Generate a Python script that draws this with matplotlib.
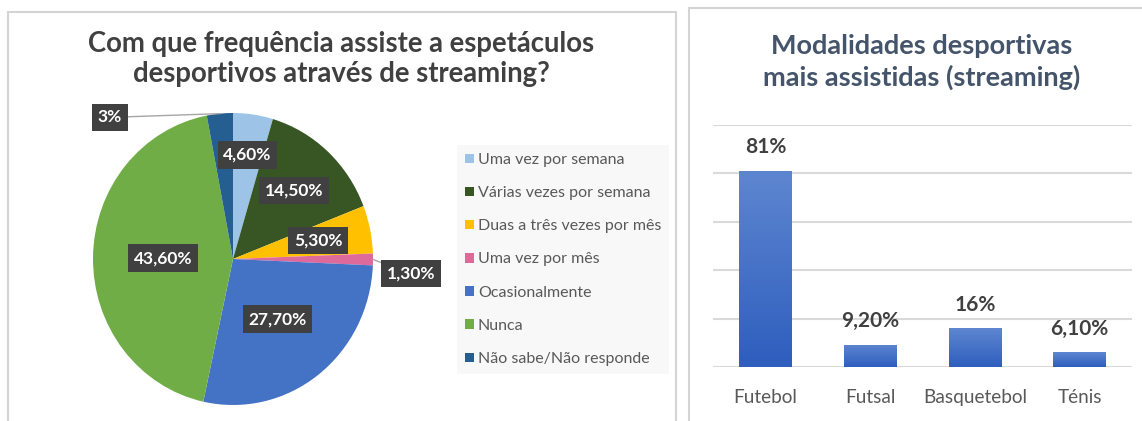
import numpy as np
import matplotlib.pyplot as plt
from matplotlib.patches import Rectangle
from matplotlib.colors import LinearSegmentedColormap

plt.rcParams['font.family'] = ['Lato', 'DejaVu Sans']

# data - left chart
freq_labels = ['Uma vez por semana', 'Várias vezes por semana', 'Duas a três vezes por mês',
               'Uma vez por mês', 'Ocasionalmente', 'Nunca', 'Não sabe/Não responde']
freq_values = [4.6, 14.5, 5.3, 1.3, 27.7, 43.6, 3.0]
freq_text = ['4,60%', '14,50%', '5,30%', '1,30%', '27,70%', '43,60%', '3%']
freq_colors = ['#9DC3E6', '#375623', '#FFC000', '#DE6A9C', '#4472C4', '#70AD47', '#255E91']

# data - right chart
sports = ['Futebol', 'Futsal', 'Basquetebol', 'Ténis']
sport_values = [81, 9.2, 16, 6.1]
sport_text = ['81%', '9,20%', '16%', '6,10%']

W, H = 1142, 421
fig = plt.figure(figsize=(W / 100, H / 100), dpi=100)


def box(x0, y0, x1, y1):
    # pixel box (top-left origin) -> figure fraction rect
    return [x0 / W, 1 - y1 / H, (x1 - x0) / W, (y1 - y0) / H]


# panel frames
for x0, y0, x1 in [(8, 12, 676), (689, 8, 1150)]:
    fig.patches.append(Rectangle((x0 / W, -0.05), (x1 - x0) / W, 1 - y0 / H + 0.05,
                                 transform=fig.transFigure, fill=False,
                                 ec='#D4D4D4', lw=1.5))

# ---- pie ----
fig.text(341 / W, 1 - 59 / H, 'Com que frequência assiste a espetáculos\ndesportivos através de streaming?',
         ha='center', va='center', fontsize=19.8, fontweight='bold', color='#404040',
         linespacing=1.15)

ax1 = fig.add_axes(box(93, 113, 373, 405))
wedges, _ = ax1.pie(freq_values, colors=freq_colors, startangle=90, counterclock=False,
                    wedgeprops=dict(linewidth=0))
ax1.set_aspect('auto')
ax1.set_xlim(-1, 1)
ax1.set_ylim(-1, 1)

label_r = [0.72, 0.64, 0.62, None, 0.52, 0.50, None]
callout = {3: (1.27, -0.10), 6: (-0.88, 0.97)}
for i, w in enumerate(wedges):
    mid = np.deg2rad((w.theta1 + w.theta2) / 2)
    bb = dict(boxstyle='square,pad=0.33', fc='#404040', ec='none')
    if i in callout:
        tx, ty = callout[i]
        ex, ey = np.cos(mid), np.sin(mid)
        ax1.annotate(freq_text[i], xy=(ex, ey), xytext=(tx, ty), ha='center', va='center',
                     fontsize=12.5, fontweight='bold', color='white', bbox=bb,
                     arrowprops=dict(arrowstyle='-', color='#A6A6A6', lw=1,
                                     shrinkA=0, shrinkB=0), annotation_clip=False)
    else:
        r = label_r[i]
        ax1.text(r * np.cos(mid), r * np.sin(mid), freq_text[i], ha='center', va='center',
                 fontsize=12.5, fontweight='bold', color='white', bbox=bb)

leg = fig.legend(wedges, freq_labels, loc='upper left', bbox_to_anchor=(457 / W, 1 - 145 / H),
                 frameon=True, facecolor='#F7F7F7', edgecolor='none', fancybox=False,
                 fontsize=11.5, labelcolor='#595959', handlelength=0.55, handleheight=0.55,
                 handletextpad=0.25, labelspacing=1.2, borderpad=0.5, borderaxespad=0)

# ---- bars ----
fig.text(922 / W, 1 - 62 / H, 'Modalidades desportivas\nmais assistidas (streaming)',
         ha='center', va='center', fontsize=19.5, fontweight='bold', color='#44546A',
         linespacing=1.3)

ax2 = fig.add_axes(box(713, 125, 1132, 367))
x = np.arange(len(sports))
bars = ax2.bar(x, sport_values, width=0.5, color='#4472C4', zorder=2)
grad = LinearSegmentedColormap.from_list('g', ['#2E5EBE', '#5E86D0'])
for b in bars:
    bx, by = b.get_x(), b.get_y()
    img = ax2.imshow(np.linspace(0, 1, 100).reshape(-1, 1), cmap=grad, origin='lower',
                     extent=[bx, bx + b.get_width(), by, by + b.get_height()],
                     aspect='auto', zorder=3)
    img.set_clip_path(b)
for xi, v, t in zip(x, sport_values, sport_text):
    ax2.annotate(t, (xi, v), xytext=(0, 17), textcoords='offset points', ha='center',
                 va='center', fontsize=15, fontweight='bold', color='#404040')
ax2.set_xlim(-0.5, 3.5)
ax2.set_ylim(0, 100)
ax2.set_yticks(range(0, 101, 20))
ax2.set_yticklabels([])
ax2.grid(axis='y', color='#D9D9D9', lw=1.5, zorder=0)
ax2.set_axisbelow(True)
for s in ax2.spines.values():
    s.set_visible(False)
ax2.set_xticks(x)
ax2.set_xticklabels(sports, fontsize=13.7, color='#595959')
ax2.tick_params(length=0, pad=16)

fig.savefig('out.png', dpi=100)
